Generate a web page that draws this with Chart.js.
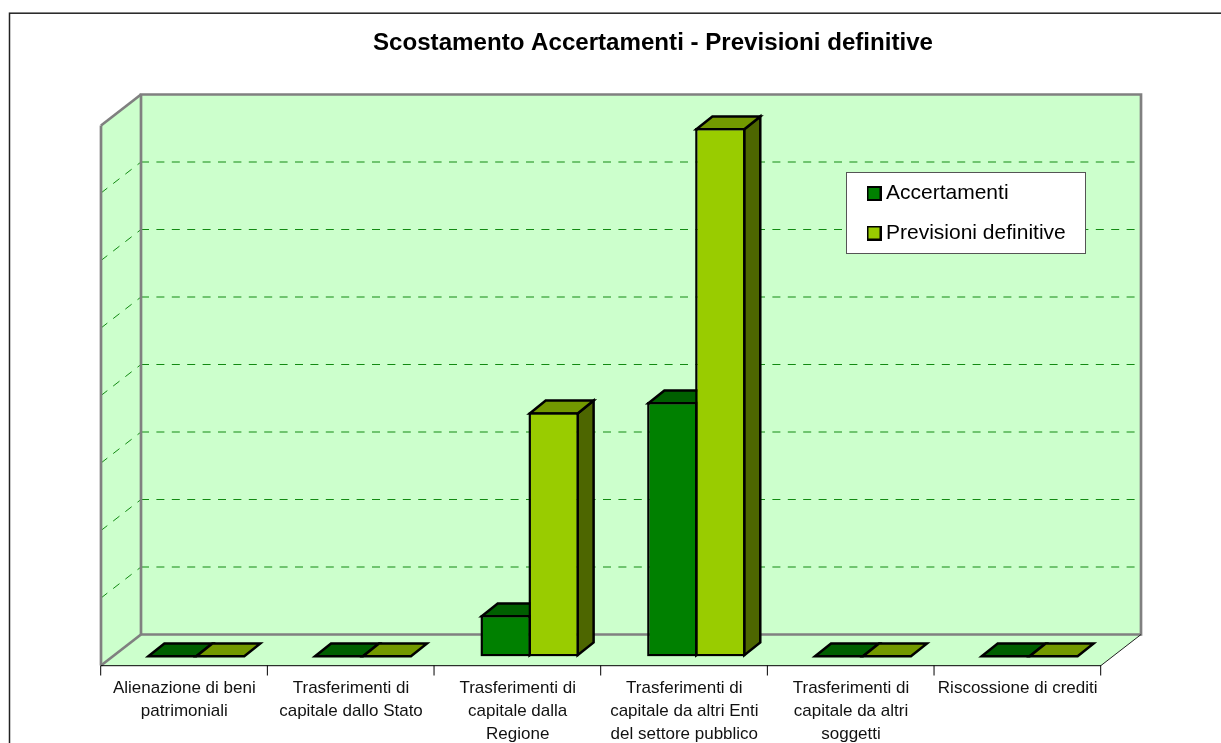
<!DOCTYPE html>
<html>
<head>
<meta charset="utf-8">
<style>html,body{margin:0;padding:0;background:#fff;overflow:hidden}canvas{display:block}</style>
<script src="https://cdn.jsdelivr.net/npm/chart.js@4/dist/chart.umd.min.js"></script>
</head>
<body>
<canvas id="c" width="1221" height="743"></canvas>
<script>
const categories = [
  ['Alienazione di beni','patrimoniali'],
  ['Trasferimenti di','capitale dallo Stato'],
  ['Trasferimenti di','capitale dalla','Regione'],
  ['Trasferimenti di','capitale da altri Enti','del settore pubblico'],
  ['Trasferimenti di','capitale da altri','soggetti'],
  ['Riscossione di crediti']
];
const accertamenti = [0, 0, 0.615, 3.77, 0, 0];
const previsioni = [0, 0, 3.62, 7.83, 0, 0];
const chartTitle = 'Scostamento Accertamenti - Previsioni definitive';
const seriesNames = ['Accertamenti', 'Previsioni definitive'];
const frontColors = ['#008000', '#99CC00'];
const topColors = ['#005F00', '#739900'];
const sideColors = ['#004D00', '#4D6600'];

const FONT = '"Liberation Sans", Arial, sans-serif';
// oblique offsets of the pseudo-3D box
const WALL_DX = 28, WALL_DY = -22, FRONT_DX = -12, FRONT_DY = 9;
const BAR_DX = 16, BAR_DY = -12.8, BW = 2.5;

function swatch(color) {
  const s = document.createElement('canvas');
  s.width = 15; s.height = 15;
  const g = s.getContext('2d');
  g.fillStyle = '#000'; g.fillRect(0, 0, 15, 15);
  g.fillStyle = color; g.fillRect(2, 2, 11, 11);
  return s;
}
function poly(ctx, pts, fill, stroke, lw) {
  ctx.beginPath();
  pts.forEach((p, i) => i ? ctx.lineTo(p[0], p[1]) : ctx.moveTo(p[0], p[1]));
  ctx.closePath();
  if (fill) { ctx.fillStyle = fill; ctx.fill(); }
  if (stroke) { ctx.strokeStyle = stroke; ctx.lineWidth = lw; ctx.lineJoin = 'miter'; ctx.stroke(); }
}
function line(ctx, x1, y1, x2, y2, color, lw, dash) {
  ctx.save();
  ctx.beginPath();
  ctx.setLineDash(dash || []);
  ctx.moveTo(x1, y1); ctx.lineTo(x2, y2);
  ctx.strokeStyle = color; ctx.lineWidth = lw; ctx.lineCap = 'butt';
  ctx.stroke();
  ctx.restore();
}

const box3d = {
  id: 'box3d',
  afterLayout(chart) {
    const t = chart.titleBlock;
    t.left = 373; t.right = 933;
    const l = chart.legend;
    const pad = l.options.labels.padding;
    l.left = 872.5 - pad; l.right = 1086;
    l.top = 183 - pad; l.bottom = 700;
  },
  beforeDraw(chart) {
    const ctx = chart.ctx, X = chart.scales.x, Y = chart.scales.y;
    const L = X.left, R = X.right;
    const y0 = Y.getPixelForValue(Y.min), yT = Y.getPixelForValue(Y.max);
    const bl = L + WALL_DX, br = R + WALL_DX, bt = yT + WALL_DY, bb = y0 + WALL_DY;
    const fl = L + FRONT_DX, fr = R + FRONT_DX, ft = yT + FRONT_DY, fb = y0 + FRONT_DY;

    ctx.save();
    ctx.fillStyle = '#fff';
    ctx.fillRect(0, 0, chart.width, chart.height);
    // outer frame (continues past the picture on the right and bottom)
    ctx.strokeStyle = '#222';
    ctx.lineWidth = 1.5;
    ctx.strokeRect(9.5, 13.2, 1300, 900);

    // walls and floor
    poly(ctx, [[bl, bt], [br, bt], [br, bb], [bl, bb]], '#CCFFCC');
    poly(ctx, [[fl, ft], [bl, bt], [bl, bb], [fl, fb]], '#CCFFCC');
    poly(ctx, [[fl, fb], [bl, bb], [br, bb], [fr, fb]], '#CCFFCC');

    // gridlines
    Y.ticks.forEach(t => {
      if (t.value <= Y.min || t.value >= Y.max) return;
      const y = Y.getPixelForValue(t.value);
      line(ctx, bl, y + WALL_DY, br, y + WALL_DY, '#128A12', 1, [8, 7.4]);
      line(ctx, fl, y + FRONT_DY, bl, y + WALL_DY, '#128A12', 1, [8, 7.4]);
    });

    // wall outlines
    ctx.lineJoin = 'miter';
    poly(ctx, [[bl, bt], [br, bt], [br, bb], [bl, bb]], null, '#808080', 2.7);
    line(ctx, fl, fb, fl, ft, '#808080', 2.7);
    line(ctx, fl, ft, bl, bt, '#808080', 2.7);
    line(ctx, fl, fb, bl, bb, '#808080', 2.7);
    line(ctx, fr, fb, br, bb, '#222', 1);

    // category axis and its ticks
    line(ctx, fl, fb + 0.2, fr, fb + 0.2, '#000', 1);
    const n = categories.length;
    for (let i = 0; i <= n; i++) {
      const x = fl - 0.3 + i * (R - L) / n;
      line(ctx, x, fb, x, fb + 10, '#000', 1);
    }

    // legend frame
    ctx.fillStyle = '#fff';
    ctx.fillRect(846.5, 172.5, 239, 81);
    ctx.strokeStyle = '#555';
    ctx.lineWidth = 1;
    ctx.strokeRect(846.5, 172.5, 239, 81);
    ctx.restore();
  },
  beforeDatasetsDraw(chart) {
    const ctx = chart.ctx;
    ctx.save();
    chart.data.datasets.forEach((ds, di) => {
      chart.getDatasetMeta(di).data.forEach(el => {
        const p = el.getProps(['x', 'y', 'base', 'width'], true);
        const a = p.x - p.width / 2 + BW / 2, b = p.x + p.width / 2 - BW / 2;
        const flat = p.y >= p.base - 3;
        const y = flat ? p.y - 0.3 : p.y + BW / 2, base = p.base - BW / 2;
        if (!flat) {
          poly(ctx, [[b, y], [b + BAR_DX, y + BAR_DY], [b + BAR_DX, base + BAR_DY], [b, base]], sideColors[di], '#000', BW);
        }
        poly(ctx, [[a, y], [a + BAR_DX, y + BAR_DY], [b + BAR_DX, y + BAR_DY], [b, y]], topColors[di], '#000', BW);
      });
    });
    ctx.restore();
  }
};

new Chart(document.getElementById('c'), {
  type: 'bar',
  data: {
    labels: categories,
    datasets: [
      { label: seriesNames[0], data: accertamenti, backgroundColor: frontColors[0], borderColor: '#000', borderWidth: BW, borderSkipped: false, inflateAmount: 0 },
      { label: seriesNames[1], data: previsioni, backgroundColor: frontColors[1], borderColor: '#000', borderWidth: BW, borderSkipped: false, inflateAmount: 0 }
    ]
  },
  options: {
    responsive: false,
    animation: false,
    devicePixelRatio: 1,
    layout: { padding: { left: 113, right: 108, top: 0, bottom: 0 } },
    datasets: { bar: { categoryPercentage: 0.576, barPercentage: 1.05 } },
    scales: {
      x: {
        grid: { display: false },
        border: { display: false },
        afterFit(s) { s.height = 86.5; },
        ticks: {
          autoSkip: false, maxRotation: 0, minRotation: 0,
          labelOffset: -12, padding: 12,
          color: '#111',
          font: { family: FONT, size: 17, lineHeight: 1.35 }
        }
      },
      y: { display: false, min: 0, max: 8, ticks: { stepSize: 1 } }
    },
    plugins: {
      tooltip: { enabled: false },
      title: {
        display: true, text: chartTitle, color: '#000',
        font: { family: FONT, size: 24.2, weight: 'bold', lineHeight: 1.2 },
        padding: { top: 29, bottom: 58.46 }
      },
      legend: {
        display: true, position: 'chartArea', align: 'start',
        labels: {
          usePointStyle: true, pointStyleWidth: 3, boxHeight: 14,
          padding: 18.5, color: '#000',
          font: { family: FONT, size: 21 },
          generateLabels(chart) {
            return chart.data.datasets.map((d, i) => ({
              text: d.label, pointStyle: swatch(frontColors[i]),
              fillStyle: frontColors[i], strokeStyle: '#000', lineWidth: 2,
              datasetIndex: i, hidden: false, fontColor: '#000'
            }));
          }
        }
      }
    }
  },
  plugins: [box3d]
});
</script>
</body>
</html>
